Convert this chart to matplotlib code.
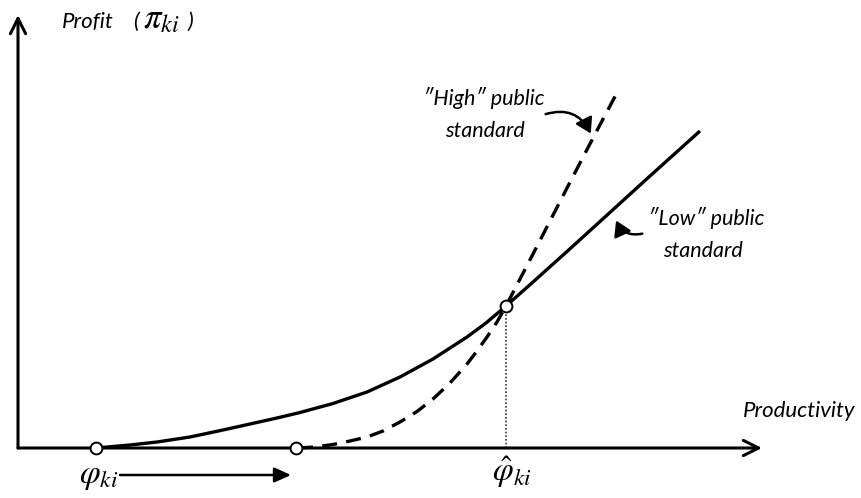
import matplotlib
matplotlib.use("Agg")
import matplotlib.pyplot as plt
from matplotlib.patches import FancyArrowPatch

plt.rcParams["font.family"] = ["Lato", "DejaVu Sans"]
plt.rcParams["mathtext.fontset"] = "stix"

# curves (productivity, profit), origin at the axes corner
low_x = [78, 112, 139, 172, 205, 232, 259, 282, 315, 349, 382, 415, 449, 468, 488,
         515, 549, 582, 632, 682]
low_y = [0, 3, 6, 11, 18, 24, 30, 35.5, 44.5, 56, 71, 89, 111, 125, 142,
         166, 196.5, 226.5, 272, 317]

high_x = [280, 297, 315, 332, 349, 365, 382, 399, 415, 432, 449, 459, 469, 479, 488,
          502, 515, 532, 549, 575, 601]
high_y = [0, 1, 3.5, 7, 11, 17, 26, 36.5, 49, 65, 84, 97, 111, 126, 142,
          169, 194, 227, 260, 310, 359]

phi_low = 78      # entry cut-off, low standard
phi_high = 278    # entry cut-off, high standard
phi_hat = 488     # crossing point
profit_hat = 142

fig = plt.figure(figsize=(8.62, 4.98), dpi=100)
ax = fig.add_axes([0, 0, 1, 1])
ax.set_xlim(-18, 844)
ax.set_ylim(-50, 448)
ax.axis("off")

# axes drawn as arrows
head = "->,head_length=1.1,head_width=0.55"
ax.annotate("", xy=(744, 0), xytext=(0, 0),
            arrowprops=dict(arrowstyle=head, lw=2.2, color="black", shrinkA=0, shrinkB=0))
ax.annotate("", xy=(0, 433), xytext=(0, 0),
            arrowprops=dict(arrowstyle=head, lw=2.2, color="black", shrinkA=0, shrinkB=0))

ax.plot(low_x, low_y, color="black", lw=2.4, solid_capstyle="butt", zorder=3)
ax.plot(high_x, high_y, color="black", lw=2.4, ls=(0, (4.5, 2.8)), zorder=3)

ax.plot([phi_hat, phi_hat], [0, profit_hat], color="#333333", lw=1.2, ls=(0, (1, 1.2)), zorder=2)
ax.plot([phi_low, phi_high, phi_hat], [0, 0, profit_hat], ls="none", marker="o", ms=8.5,
        mfc="white", mec="black", mew=1.4, zorder=5)

# shift of the cut-off
ax.annotate("", xy=(273, -27), xytext=(102, -27),
            arrowprops=dict(arrowstyle="-|>,head_length=1.0,head_width=0.45", lw=1.8,
                            color="black", shrinkA=0, shrinkB=0))

ax.text(81, -29, r"$\varphi_{ki}$", fontsize=24, ha="center", va="center")
ax.text(494, -24, r"$\hat{\varphi}_{ki}$", fontsize=24, ha="center", va="center")

ax.text(44, 420, "Profit", fontsize=16, style="italic", ha="left", va="baseline")
ax.text(115, 420, "(", fontsize=16, style="italic", ha="left", va="baseline")
ax.text(125, 420, r"$\pi_{ki}$", fontsize=25, ha="left", va="baseline")
ax.text(169, 420, ")", fontsize=16, style="italic", ha="left", va="baseline")

ax.text(837, 31, "Productivity", fontsize=16, style="italic", ha="right", va="baseline")

ax.text(527, 343, "\u2033High\u2033 public", fontsize=15.5, style="italic", ha="right", va="baseline")
ax.text(507, 311, "standard", fontsize=15.5, style="italic", ha="right", va="baseline")
ax.text(630, 223, "\u2033Low\u2033 public", fontsize=15.5, style="italic", ha="left", va="baseline")
ax.text(645, 191, "standard", fontsize=15.5, style="italic", ha="left", va="baseline")

ax.add_patch(FancyArrowPatch((525, 333), (574, 312), connectionstyle="arc3,rad=-0.45",
                             arrowstyle="-|>,head_length=9,head_width=5.5", lw=1.8, color="black"))
ax.add_patch(FancyArrowPatch((627, 215), (597, 230), connectionstyle="arc3,rad=-0.45",
                             arrowstyle="-|>,head_length=9,head_width=5.5", lw=1.8, color="black"))

fig.savefig("out.png", dpi=100)
